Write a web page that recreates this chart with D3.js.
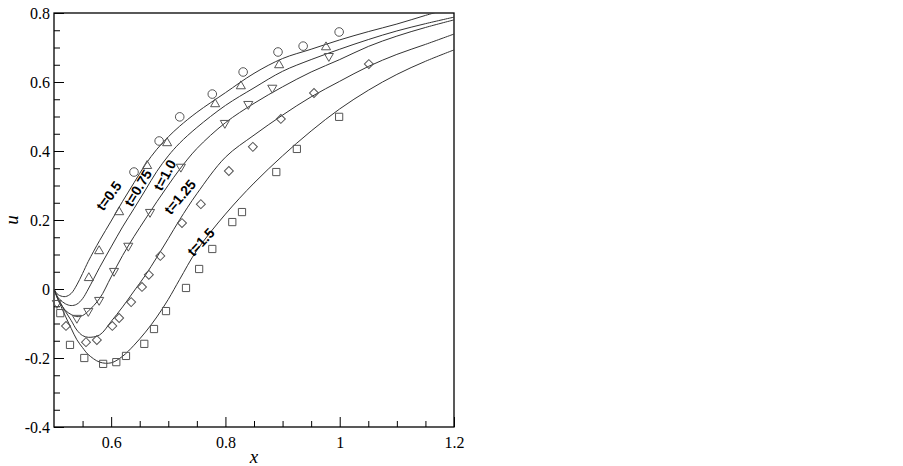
<!DOCTYPE html>
<html>
<head>
<meta charset="utf-8">
<script src="https://cdn.jsdelivr.net/npm/d3@7"></script>
<style>
  body { margin: 0; background: #fff; }
  svg { display: block; }
</style>
</head>
<body>
<div id="chart"></div>
<script>
const w = 903;
const h = 466;
const margin = { left: 54, top: 13, right: 449, bottom: 39 };
const serifFont = "Liberation Serif";
const labelFont = "Liberation Sans";

// exact solution curves, sampled on a shared x grid
const xCurve = [0.5, 0.505, 0.51, 0.52, 0.53, 0.54, 0.55, 0.56, 0.58, 0.60, 0.62, 0.64, 0.66,
    0.68, 0.70, 0.72, 0.75, 0.80, 0.85, 0.90, 0.95, 1.0, 1.05, 1.1, 1.15, 1.2];
const uT050 = [0, -0.013, -0.019, -0.022, -0.013, 0.012, 0.045, 0.080, 0.141, 0.197, 0.254, 0.308, 0.361,
    0.405, 0.441, 0.472, 0.512, 0.569, 0.625, 0.668, 0.695, 0.722, 0.746, 0.768, 0.793, 0.817];
const uT075 = [0, -0.020, -0.030, -0.043, -0.048, -0.044, -0.028, 0.000, 0.063, 0.122, 0.180, 0.233, 0.287,
    0.341, 0.386, 0.423, 0.468, 0.532, 0.583, 0.631, 0.665, 0.695, 0.723, 0.748, 0.769, 0.788];
const uT100 = [0, -0.022, -0.039, -0.062, -0.074, -0.080, -0.077, -0.064, -0.027, 0.035, 0.097, 0.152, 0.203,
    0.253, 0.301, 0.347, 0.407, 0.482, 0.538, 0.586, 0.629, 0.665, 0.703, 0.733, 0.758, 0.780];
const uT125 = [0, -0.019, -0.036, -0.065, -0.091, -0.119, -0.135, -0.140, -0.133, -0.094, -0.052, -0.006, 0.040,
    0.092, 0.146, 0.201, 0.276, 0.382, 0.446, 0.504, 0.557, 0.602, 0.645, 0.680, 0.709, 0.739];
const uT150 = [0, -0.023, -0.042, -0.079, -0.114, -0.147, -0.170, -0.190, -0.212, -0.214, -0.195, -0.163, -0.125,
    -0.081, -0.030, 0.028, 0.112, 0.217, 0.307, 0.386, 0.458, 0.522, 0.576, 0.622, 0.660, 0.693];

// numerical results (markers)
const xCirc = [0.64, 0.684, 0.72, 0.777, 0.831, 0.892, 0.936, 0.999];
const uCirc = [0.339, 0.429, 0.499, 0.565, 0.629, 0.687, 0.704, 0.745];
const xTriUp = [0.561, 0.579, 0.614, 0.663, 0.698, 0.782, 0.827, 0.894, 0.976];
const uTriUp = [0.032, 0.110, 0.223, 0.357, 0.423, 0.536, 0.588, 0.649, 0.701];
const xTriDn = [0.505, 0.540, 0.560, 0.579, 0.605, 0.630, 0.668, 0.722, 0.799, 0.840, 0.882, 0.981];
const uTriDn = [-0.041, -0.084, -0.064, -0.032, 0.052, 0.125, 0.223, 0.354, 0.481, 0.536, 0.583, 0.675];
const xDiam = [0.521, 0.556, 0.575, 0.602, 0.614, 0.635, 0.654, 0.666, 0.686, 0.724, 0.757, 0.806,
    0.848, 0.897, 0.955, 1.051];
const uDiam = [-0.107, -0.154, -0.148, -0.107, -0.084, -0.038, 0.006, 0.041, 0.096, 0.191, 0.246, 0.342,
    0.412, 0.493, 0.568, 0.652];
const xSq = [0.511, 0.528, 0.553, 0.586, 0.609, 0.626, 0.658, 0.675, 0.696, 0.731, 0.754, 0.777, 0.812,
    0.829, 0.889, 0.925, 0.999];
const uSq = [-0.070, -0.162, -0.200, -0.217, -0.212, -0.194, -0.159, -0.116, -0.064, 0.003, 0.058, 0.116,
    0.194, 0.223, 0.339, 0.406, 0.499];

// curve labels: text, anchor (data units), angle
const labelText = ["t=0.5", "t=0.75", "t=1.0", "t=1.25", "t=1.5"];
const labelX = [0.596, 0.647, 0.694, 0.7205, 0.757];
const labelU = [0.270, 0.293, 0.330, 0.267, 0.136];
const labelAngle = [-54, -59, -62, -50, -47];

const xMajor = [0.6, 0.8, 1.0, 1.2];
const xMajorLabels = ["0.6", "0.8", "1", "1.2"];
const yMajor = [0.8, 0.6, 0.4, 0.2, 0, -0.2, -0.4];
const yMajorLabels = ["0.8", "0.6", "0.4", "0.2", "0", "-0.2", "-0.4"];

const pw = w - margin.left - margin.right;
const ph = h - margin.top - margin.bottom;

const svg = d3.select("#chart").append("svg")
    .attr("width", w)
    .attr("height", h);

const x = d3.scaleLinear().domain([0.5, 1.2]).range([0, pw]);
const y = d3.scaleLinear().domain([-0.4, 0.8]).range([ph, 0]);

const g = svg.append("g").attr("transform", `translate(${margin.left},${margin.top})`);

g.append("clipPath").attr("id", "clip")
    .append("rect").attr("width", pw).attr("height", ph);

// minor ticks
const xMinor = d3.range(0.55, 1.2, 0.05).filter(v => !xMajor.some(m => Math.abs(m - v) < 1e-6));
const yMinor = d3.range(-0.35, 0.8, 0.05).filter(v => !yMajor.some(m => Math.abs(m - v) < 1e-6));

g.append("g").attr("transform", `translate(0,${ph})`)
    .call(d3.axisBottom(x).tickValues(xMinor).tickSize(-6).tickFormat(""))
    .call(a => a.select(".domain").remove());
g.append("g")
    .call(d3.axisLeft(y).tickValues(yMinor).tickSize(-6).tickFormat(""))
    .call(a => a.select(".domain").remove());

const xAxis = g.append("g").attr("transform", `translate(0,${ph})`)
    .call(d3.axisBottom(x).tickValues(xMajor).tickSize(-10).tickPadding(12)
        .tickFormat((d, i) => xMajorLabels[i]));
xAxis.select(".domain").remove();

const yAxis = g.append("g")
    .call(d3.axisLeft(y).tickValues(yMajor).tickSize(-10).tickPadding(14)
        .tickFormat((d, i) => yMajorLabels[i]));
yAxis.select(".domain").remove();

xAxis.attr("font-family", serifFont).attr("font-size", 16);
yAxis.attr("font-family", serifFont).attr("font-size", 16);

g.selectAll(".tick line").attr("stroke", "#000").attr("stroke-width", 1);
g.selectAll(".tick text").attr("fill", "#000");
xAxis.selectAll(".tick text").attr("dy", "0.55em");
yAxis.selectAll(".tick text").attr("dx", "10px");

// frame
g.append("rect")
    .attr("width", pw).attr("height", ph)
    .attr("fill", "none").attr("stroke", "#000").attr("stroke-width", 1.3);

// curves
const curves = [uT050, uT075, uT100, uT125, uT150];
const line = d3.line()
    .x((d, i) => x(xCurve[i]))
    .y(d => y(d))
    .curve(d3.curveCatmullRom.alpha(0.5));

g.append("g").attr("clip-path", "url(#clip)")
    .selectAll("path")
    .data(curves)
    .enter()
    .append("path")
    .attr("d", d => line(d))
    .attr("fill", "none")
    .attr("stroke", "#333")
    .attr("stroke-width", 1);

// markers
const markerSets = [
    { xs: xCirc, us: uCirc, type: d3.symbolCircle, size: 58, rot: 0 },
    { xs: xTriUp, us: uTriUp, type: d3.symbolTriangle, size: 36, rot: 0 },
    { xs: xTriDn, us: uTriDn, type: d3.symbolTriangle, size: 36, rot: 180 },
    { xs: xDiam, us: uDiam, type: d3.symbolSquare, size: 40, rot: 45 },
    { xs: xSq, us: uSq, type: d3.symbolSquare, size: 52, rot: 0 }
];

markerSets.forEach(function (s) {
    g.append("g")
        .selectAll("path")
        .data(s.xs)
        .enter()
        .append("path")
        .attr("d", d3.symbol().type(s.type).size(s.size))
        .attr("transform", (d, i) => `translate(${x(d)},${y(s.us[i])}) rotate(${s.rot})`)
        .attr("fill", "none")
        .attr("stroke", "#555")
        .attr("stroke-width", 1);
});

// curve labels
g.selectAll(".clabel")
    .data(labelText)
    .enter()
    .append("text")
    .text(d => d)
    .attr("transform", (d, i) => `translate(${x(labelX[i])},${y(labelU[i])}) rotate(${labelAngle[i]})`)
    .attr("text-anchor", "middle")
    .attr("dy", "0.35em")
    .attr("font-family", labelFont)
    .attr("font-weight", "bold")
    .attr("font-size", 14)
    .attr("fill", "#000");

// axis titles
g.append("text")
    .text("x")
    .attr("x", pw / 2)
    .attr("y", ph + 36)
    .attr("text-anchor", "middle")
    .attr("font-family", serifFont)
    .attr("font-style", "italic")
    .attr("font-size", 19);

g.append("text")
    .text("u")
    .attr("transform", `translate(${-36},${ph / 2}) rotate(-90)`)
    .attr("text-anchor", "middle")
    .attr("font-family", serifFont)
    .attr("font-style", "italic")
    .attr("font-size", 19);
</script>
</body>
</html>
